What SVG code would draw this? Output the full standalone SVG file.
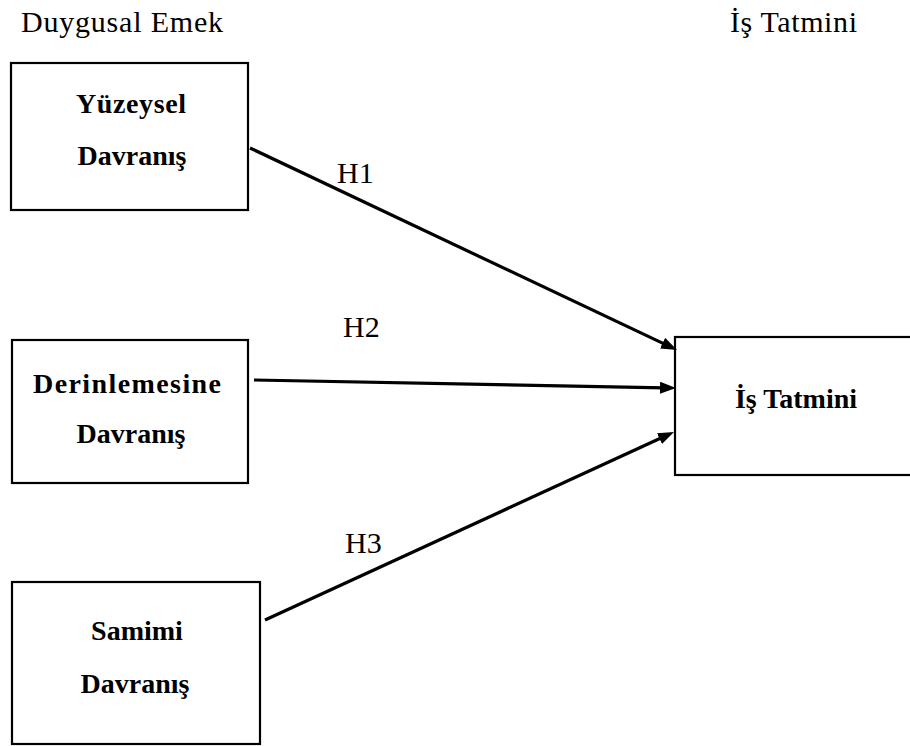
<svg xmlns="http://www.w3.org/2000/svg" width="910" height="746" viewBox="0 0 910 746">
  <style>
    .box { fill: #ffffff; stroke: #000000; stroke-width: 2.2; }
    .lbl { font-family: "Liberation Serif", "Times New Roman", serif; font-size: 30px; fill: #000000; }
    .bt { font-family: "Liberation Serif", "Times New Roman", serif; font-size: 28px; font-weight: bold; fill: #000000; text-anchor: middle; }
    .conn { stroke: #000000; stroke-width: 3.2; fill: none; marker-end: url(#ah); }
  </style>
  <defs>
    <marker id="ah" markerUnits="userSpaceOnUse" markerWidth="17" markerHeight="13" refX="4" refY="6" orient="auto">
      <path d="M0,0 L16,6 L0,12 z" fill="#000000"/>
    </marker>
  </defs>
  <rect width="910" height="746" fill="#ffffff"/>

  <text class="lbl" x="21" y="32" textLength="202">Duygusal Emek</text>
  <text class="lbl" x="730" y="32" textLength="127">İş Tatmini</text>

  <g id="yuzeysel">
    <rect class="box" x="11" y="63" width="237" height="147"/>
    <text class="bt" x="131" y="113" textLength="110">Yüzeysel</text>
    <text class="bt" x="132" y="165">Davranış</text>
  </g>

  <g id="derinlemesine">
    <rect class="box" x="12" y="340" width="236" height="143"/>
    <text class="bt" x="127" y="393" textLength="188">Derinlemesine</text>
    <text class="bt" x="131" y="443">Davranış</text>
  </g>

  <g id="samimi">
    <rect class="box" x="12" y="582" width="248" height="162"/>
    <text class="bt" x="137" y="640">Samimi</text>
    <text class="bt" x="135" y="693">Davranış</text>
  </g>

  <g id="is-tatmini">
    <rect class="box" x="675" y="337" width="250" height="138"/>
    <text class="bt" x="796" y="408">İş Tatmini</text>
  </g>

  <g id="connectors">
    <line class="conn" x1="250" y1="148" x2="666.2" y2="344.9"/>
    <line class="conn" x1="254" y1="380" x2="664" y2="387.8"/>
    <line class="conn" x1="265" y1="620" x2="663.1" y2="437"/>
    <text class="lbl" x="337" y="183">H1</text>
    <text class="lbl" x="343" y="337">H2</text>
    <text class="lbl" x="345" y="553">H3</text>
  </g>
</svg>
